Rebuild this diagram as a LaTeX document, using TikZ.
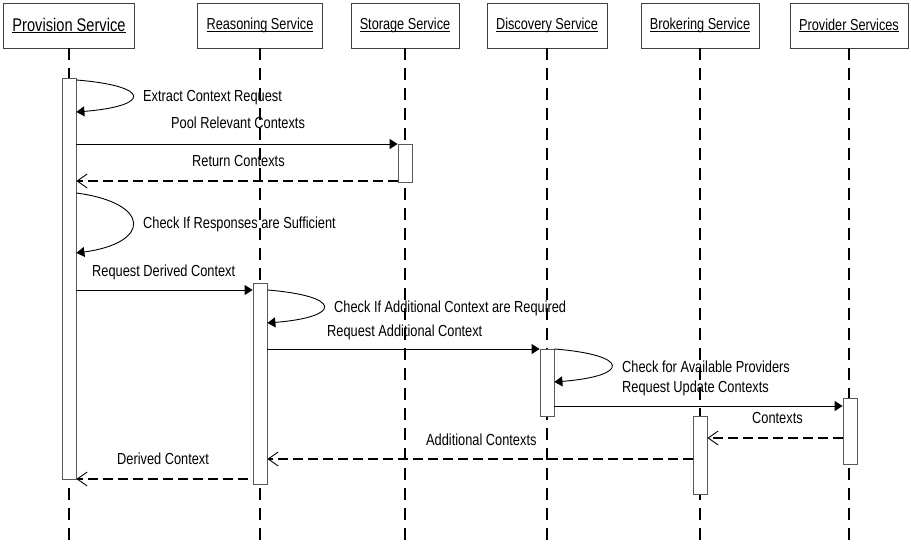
\documentclass[tikz,border=0pt]{standalone}
\usepackage{fontspec}
\newfontfamily\labelfont[FakeStretch=0.8]{Liberation Sans}
\usetikzlibrary{arrows.meta}
\newcommand\headtext[1]{\setbox0=\hbox{#1}\rlap{\rule[-2.2pt]{\wd0}{0.9pt}}\box0}
\tikzset{
  head/.style={draw=black!75,thin,fill=white,minimum height=45pt,inner xsep=9pt,
    font=\labelfont\fontsize{15.9}{18}\selectfont},
  lifeline/.style={line width=2.6pt,dash pattern=on 12pt off 8pt},
  actbar/.style={draw=black!65,fill=white,line width=0.8pt,minimum width=14pt,inner sep=0pt},
  callmsg/.style={line width=1pt,-{Triangle[length=8pt,width=10pt]}},
  selfmsg/.style={line width=0.9pt,-{Triangle[length=8pt,width=10pt]}},
  replymsg/.style={line width=2.6pt,dash pattern=on 10pt off 5pt,
    -{Straight Barb[length=10pt,width=14pt,line width=0.9pt]}},
  msglbl/.style={anchor=base west,inner sep=0pt,font=\labelfont\fontsize{16}{18}\selectfont}
}
\begin{document}
\begin{tikzpicture}[x=1pt,y=-1pt]
      \useasboundingbox (0,0) rectangle (911,557);
      % participants
      \node[head,font=\labelfont\fontsize{18.3}{20}\selectfont] (prov) at (69,25.5) {\headtext{Provision Service}};
      \node[head] (reas) at (260,25.5) {\headtext{Reasoning Service}};
      \node[head] (stor) at (405,25.5) {\headtext{Storage Service}};
      \node[head] (disc) at (547,25.5) {\headtext{Discovery Service}};
      \node[head] (brok) at (700,25.5) {\headtext{Brokering Service}};
      \node[head] (pvdr) at (849,25.5) {\headtext{Provider Services}};
      \foreach \p in {prov,reas,stor,disc,brok,pvdr}
        \draw[lifeline] (\p.south) -- (\p.south |- 0,548);
      % activation bars
      \node[actbar,minimum height=401pt] (provbar) at (69,278.5) {};
      \node[actbar,minimum height=38pt] (storbar) at (405,163) {};
      \node[actbar,minimum height=201pt] (reasbar) at (260,383.5) {};
      \node[actbar,minimum height=67pt] (discbar) at (547,382.5) {};
      \node[actbar,minimum height=78pt] (brokbar) at (700,455) {};
      \node[actbar,minimum height=66pt] (pvdrbar) at (850,431) {};
      % messages
      \draw[selfmsg] (provbar.east |- 0,80) .. controls +(75,6) and +(75,-6) .. (provbar.east |- 0,112);
      \node[msglbl] (extractlbl) at (143,101) {Extract Context Request};
      \draw[callmsg] (provbar.east |- 0,144) -- (storbar.west |- 0,144);
      \node[msglbl] (poollbl) at (171,128) {Pool Relevant Contexts};
      \draw[replymsg] (storbar.west |- 0,181) -- (provbar.east |- 0,181);
      \node[msglbl] (returnlbl) at (192,166) {Return Contexts};
      \draw[selfmsg] (provbar.east |- 0,193) .. controls +(75,10) and +(75,-10) .. (provbar.east |- 0,253);
      \node[msglbl] (sufficientlbl) at (143,228) {Check If Responses are Sufficient};
      \draw[callmsg] (provbar.east |- 0,290) -- (reasbar.west |- 0,290);
      \node[msglbl] (derivedreqlbl) at (92,276) {Request Derived Context};
      \draw[selfmsg] (reasbar.east |- 0,290) .. controls +(75,6) and +(75,-6) .. (reasbar.east |- 0,323);
      \node[msglbl] (requiredlbl) at (334,312) {Check If Additional Context are Required};
      \draw[callmsg] (reasbar.east |- 0,349) -- (discbar.west |- 0,349);
      \node[msglbl] (additionalreqlbl) at (327,336) {Request Additional Context};
      \draw[selfmsg] (discbar.east |- 0,349) .. controls +(76,6) and +(76,-6) .. (discbar.east |- 0,382);
      \node[msglbl] (availablelbl) at (622,372) {Check for Available Providers};
      \draw[callmsg] (discbar.east |- 0,406) -- (pvdrbar.west |- 0,406);
      \node[msglbl] (updatelbl) at (622,392) {Request Update Contexts};
      \draw[replymsg] (pvdrbar.west |- 0,438) -- (brokbar.east |- 0,438);
      \node[msglbl] (contextslbl) at (752,423) {Contexts};
      \draw[replymsg] (brokbar.west |- 0,459) -- (reasbar.east |- 0,459);
      \node[msglbl] (additionallbl) at (426,445) {Additional Contexts};
      \draw[replymsg,shorten <=5pt] (reasbar.west |- 0,479) -- (provbar.east |- 0,479);
      \node[msglbl] (derivedlbl) at (117,464) {Derived Context};
\end{tikzpicture}
\end{document}
